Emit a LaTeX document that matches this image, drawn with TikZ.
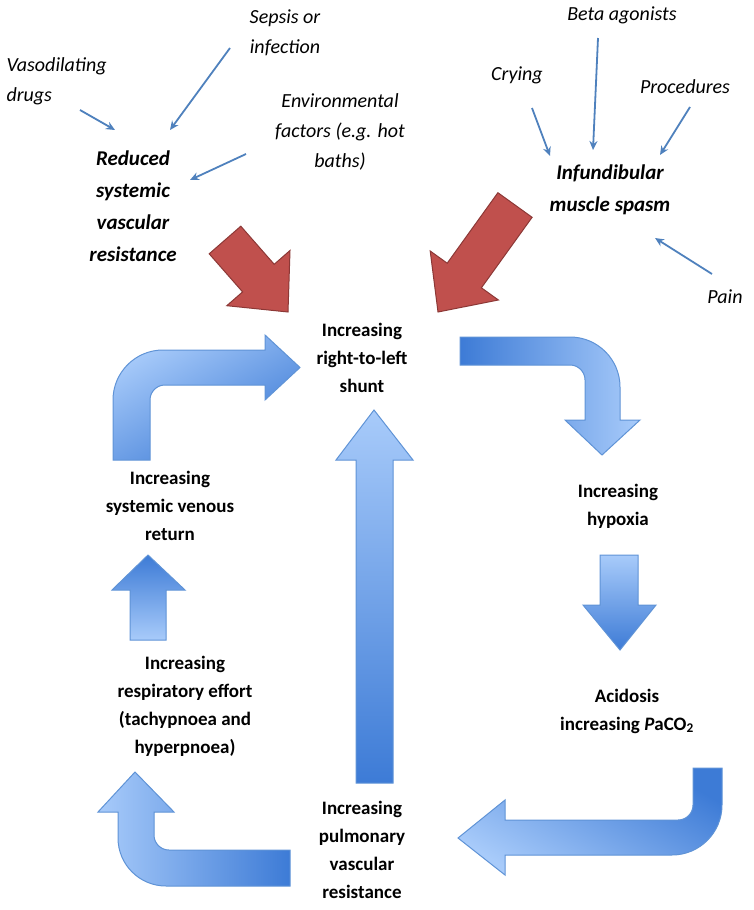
\documentclass[tikz,border=0pt]{standalone}
\usepackage{fontspec}
\setmainfont{Carlito}
\usetikzlibrary{arrows.meta}
\begin{document}
\begin{tikzpicture}[x=1pt,y=-1pt,
 thin/.style={draw=tb,line width=1.8pt,-{Stealth[length=9pt,width=8pt]}},
 it/.style={font=\fontsize{20}{30}\selectfont\itshape,align=center},
 bx/.style={font=\fontsize{19}{28}\selectfont\bfseries,align=center},
 bi/.style={font=\fontsize{21}{32}\selectfont\bfseries\itshape,align=center},
 red/.style={fill=rf,draw=rd,line width=1pt},
 blu/.style={draw=bd,line width=1pt}]
\definecolor{tb}{HTML}{4F81BD}
\definecolor{rf}{HTML}{C0504D}
\definecolor{rd}{HTML}{8C3836}
\definecolor{bd}{HTML}{5F93D6}
\definecolor{dk}{HTML}{3D7BD6}
\definecolor{lt}{HTML}{A8CBFA}
\useasboundingbox (0,0) rectangle (754,910);
% texts
\node[it,align=left,anchor=west] (vd) at (3,81) {Vasodilating\\drugs};
\node[it] (se) at (285,33) {Sepsis or\\infection};
\node[it] (en) at (340,132) {Environmental\\factors (e.g. hot\\baths)};
\node[bi] (rs) at (133,206) {Reduced\\systemic\\vascular\\resistance};
\node[it] (cr) at (517,75) {Crying};
\node[it] (ba) at (622,15) {Beta agonists};
\node[it] (pr) at (685,87) {Procedures};
\node[bi] (im) at (610,190) {Infundibular\\muscle spasm};
\node[it] (pa) at (725,297) {Pain};
\node[bx] (sh) at (362,358) {Increasing\\right-to-left\\shunt};
\node[bx] (hy) at (618,506) {Increasing\\hypoxia};
\node[bx] (ac) at (627,711) {Acidosis\\increasing \textit{P}aCO\textsubscript{2}};
\node[bx] (pv) at (362,850) {Increasing\\pulmonary\\vascular\\resistance};
\node[bx] (re) at (185,706) {Increasing\\respiratory effort\\(tachypnoea and\\hyperpnoea)};
\node[bx] (vr) at (170,506) {Increasing\\systemic venous\\return};
% thin arrows
\coordinate (a1) at (115,130); \coordinate (a2) at (170,130); \coordinate (a3) at (190,180);
\coordinate (b1) at (550,156); \coordinate (b2) at (593,150); \coordinate (b3) at (660,155); \coordinate (b4) at (655,238);
\draw[thin] (80,110) -- (a1);
\draw[thin] (230,48) -- (a2);
\draw[thin] (246,154) -- (a3);
\draw[thin] (532,108) -- (b1);
\draw[thin] (598,38) -- (b2);
\draw[thin] (690,107) -- (b3);
\draw[thin] (712,274) -- (b4);
% red arrows
\draw[red] (209.2,253.8)--(242.6,291.9)--(226.8,305.7)--(288,312)--(290,250.5)--(274.2,264.3)--(240.8,226.2)--cycle;
\draw[red] (532.1,217.3)--(481.4,287.8)--(498.4,300.0)--(438,312)--(430.2,251.0)--(447.2,263.2)--(497.9,192.7)--cycle;
% blue arrows
\draw[blu,top color=lt,bottom color=dk] (356,783)--(356,460)--(336,460)--(374,410)--(413,460)--(393,460)--(393,783)--cycle;
\draw[blu,top color=lt,bottom color=dk,shading angle=30] (113,460)--(113,400) arc(180:270:50)--(265,350)--(265,335)--(300,367.5)--(265,400)--(265,385)--(165,385) arc(270:180:15)--(150,460)--cycle;
\draw[blu,left color=dk,right color=lt] (460,337)--(570,337) arc(270:360:50)--(620,420)--(640,420)--(602,455)--(565,420)--(585,420)--(585,380) arc(0:-90:15)--(460,365)--cycle;
\draw[blu,top color=lt,bottom color=dk] (600,555)--(600,605)--(583,605)--(620,650)--(656,605)--(638,605)--(638,555)--cycle;
\draw[blu,top color=dk,bottom color=lt] (130,640)--(130,590)--(112,590)--(148,555)--(185,590)--(166,590)--(166,640)--cycle;
\draw[blu,top color=dk,bottom color=lt,shading angle=-30] (722,768)--(722,805) arc(0:90:50)--(505,855)--(505,875)--(458,838)--(505,800)--(505,820)--(678,820) arc(90:0:15)--(693,768)--cycle;
\draw[blu,left color=lt,right color=dk] (290,850)--(290,886)--(166,886) arc(90:180:48)--(118,812)--(98,812)--(135,772)--(174,812)--(154,812)--(154,835) arc(180:90:15)--(290,850)--cycle;
\end{tikzpicture}
\end{document}
